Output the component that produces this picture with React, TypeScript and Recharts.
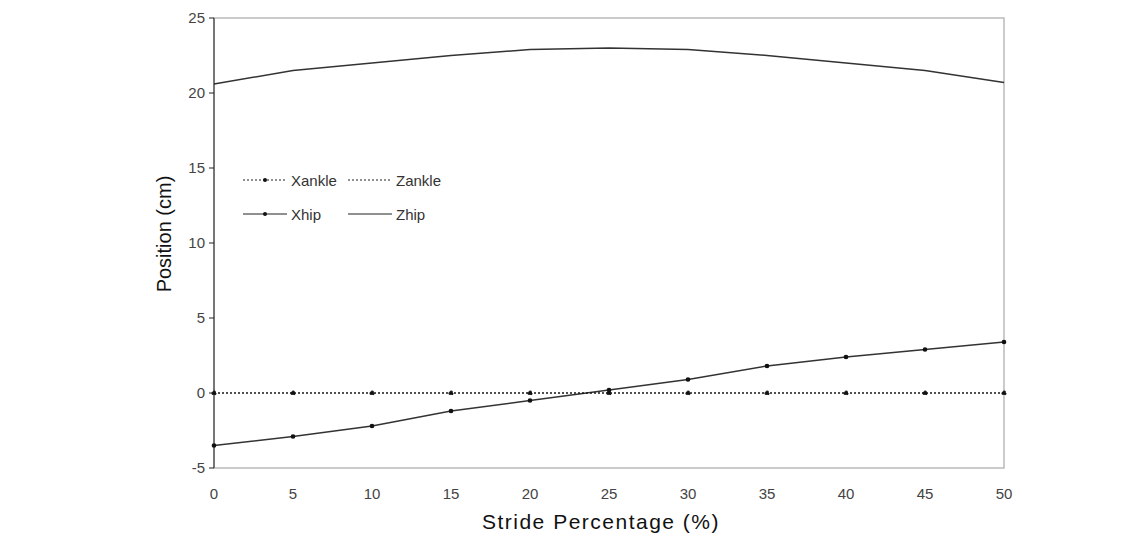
import React from 'react';
import {
  LineChart,
  Line,
  XAxis,
  YAxis,
  ReferenceArea,
} from 'recharts';

const stride = [0, 5, 10, 15, 20, 25, 30, 35, 40, 45, 50];
const xAnkle = [0, 0, 0, 0, 0, 0, 0, 0, 0, 0, 0];
const zAnkle = [0, 0, 0, 0, 0, 0, 0, 0, 0, 0, 0];
const xHip = [-3.5, -2.9, -2.2, -1.2, -0.5, 0.2, 0.9, 1.8, 2.4, 2.9, 3.4];
const zHip = [20.6, 21.5, 22.0, 22.5, 22.9, 23.0, 22.9, 22.5, 22.0, 21.5, 20.7];
const xTicks = [0, 5, 10, 15, 20, 25, 30, 35, 40, 45, 50];
const yTicks = [-5, 0, 5, 10, 15, 20, 25];

const data = stride.map((s, i) => ({
  s,
  xAnkle: xAnkle[i],
  zAnkle: zAnkle[i],
  xHip: xHip[i],
  zHip: zHip[i],
}));

const font = '"Liberation Sans", Arial, sans-serif';

const LegendItem = ({ label, dash, dot }: { label: string; dash?: string; dot?: boolean }) => (
  <div style={{ display: 'flex', alignItems: 'center', height: 34 }}>
    <svg width={46} height={10} style={{ marginRight: 2 }}>
      <line x1={0} y1={5} x2={44} y2={5} stroke="#222" strokeWidth={1.2} strokeDasharray={dash} />
      {dot && <circle cx={22} cy={5} r={2} fill="#111" />}
    </svg>
    <span style={{ fontSize: 15, color: '#333', fontFamily: font }}>{label}</span>
  </div>
);

export default function App() {
  return (
    <div style={{ position: 'absolute', left: 0, top: 0, width: 1140, height: 538, background: '#fff' }}>
      <LineChart
        width={1140}
        height={538}
        data={data}
        margin={{ top: 18, right: 136, left: 154, bottom: 40 }}
      >
        <ReferenceArea x1={0} x2={50} y1={-5} y2={25} fill="none" stroke="#bbb" strokeWidth={1.5} />
        <XAxis
          dataKey="s"
          type="number"
          domain={[0, 50]}
          ticks={xTicks}
          height={30}
          axisLine={false}
          tickLine={false}
          tickMargin={14}
          tick={{ fontSize: 15, fill: '#444', fontFamily: font }}
          label={{
            value: 'Stride Percentage (%)',
            position: 'center',
            dy: 39,
            dx: -8,
            style: { fontSize: 21, letterSpacing: 1.5, fill: '#111', fontFamily: font },
          }}
        />
        <YAxis
          type="number"
          domain={[-5, 25]}
          ticks={yTicks}
          width={60}
          stroke="#222"
          tickSize={5}
          tickMargin={4}
          tick={{ fontSize: 15, fill: '#444', fontFamily: font }}
          label={{
            value: 'Position (cm)',
            angle: -90,
            position: 'center',
            dx: -20,
            dy: -9,
            style: { fontSize: 20, fill: '#111', fontFamily: font },
          }}
        />
        <Line
          dataKey="zHip"
          stroke="#333"
          strokeWidth={1.5}
          dot={false}
          isAnimationActive={false}
        />
        <Line
          dataKey="xHip"
          stroke="#333"
          strokeWidth={1.5}
          dot={{ r: 1.6, fill: '#111', stroke: '#111' }}
          isAnimationActive={false}
        />
        <Line
          dataKey="zAnkle"
          stroke="#222"
          strokeWidth={1.2}
          strokeDasharray="2 2"
          dot={false}
          isAnimationActive={false}
        />
        <Line
          dataKey="xAnkle"
          stroke="#111"
          strokeWidth={1.2}
          strokeDasharray="2 2"
          dot={{ r: 2, fill: '#111', stroke: '#111' }}
          isAnimationActive={false}
        />
      </LineChart>
      <div
        style={{
          position: 'absolute',
          left: 243,
          top: 163,
          display: 'grid',
          gridTemplateColumns: '105px 110px',
        }}
      >
        <LegendItem label="Xankle" dash="2 2" dot />
        <LegendItem label="Zankle" dash="2 2" />
        <LegendItem label="Xhip" dot />
        <LegendItem label="Zhip" />
      </div>
    </div>
  );
}
